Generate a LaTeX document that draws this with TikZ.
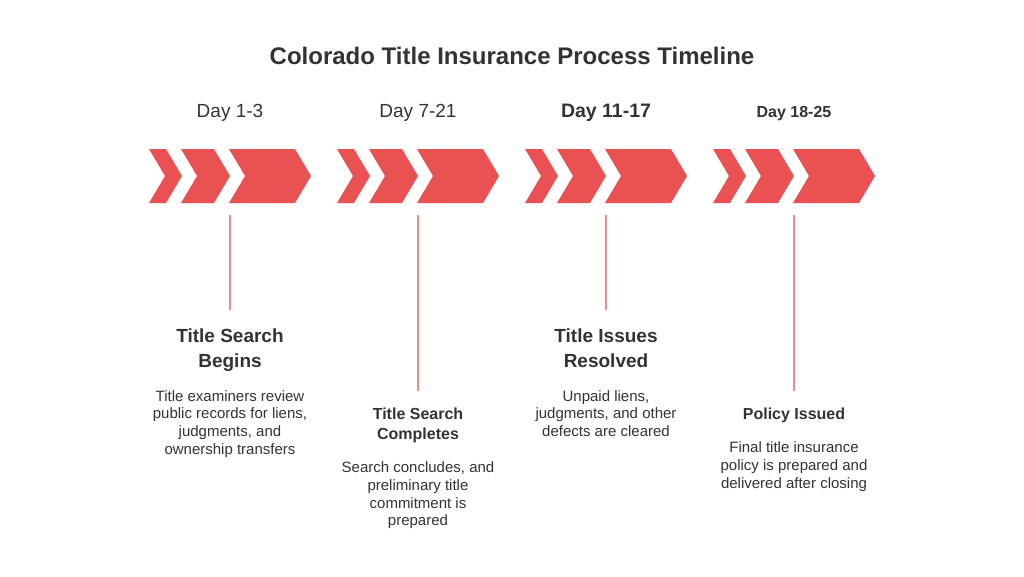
\documentclass[tikz,border=0pt]{standalone}
\usepackage{fontspec}
\setmainfont{Liberation Sans}
\definecolor{chev}{RGB}{233,81,83}
\definecolor{stem}{RGB}{236,140,142}
\definecolor{ink}{RGB}{51,51,51}
\begin{document}
\begin{tikzpicture}[x=1pt,y=-1pt,
  chevfill/.style={fill=chev,draw=none},
  stemline/.style={draw=stem,line width=1.2pt},
  titletext/.style={font=\bfseries\fontsize{24}{28}\selectfont,text=ink,inner sep=0,anchor=base},
  daytext/.style={font=\fontsize{19}{22}\selectfont,text=ink,inner sep=0,anchor=base},
  headbig/.style={font=\bfseries\fontsize{19}{24.5}\selectfont,text=ink,inner sep=0,anchor=north,align=center},
  headsmall/.style={font=\bfseries\fontsize{16}{20}\selectfont,text=ink,inner sep=0,anchor=north,align=center},
  desc/.style={font=\fontsize{15}{17.8}\selectfont,text=ink,inner sep=0,anchor=north,align=center},
]
\useasboundingbox[fill=white] (0,0) rectangle (1024,576);

\node[titletext] (title) at (512,64) {Colorado Title Insurance Process Timeline};

% chevron groups
\foreach \g/\name in {0/a,1/b,2/c,3/d}{
  \begin{scope}[xshift=\g*188]
    \fill[chevfill] (149,149) -- (166,149) -- (182,176) -- (166,203) -- (149,203) -- (165,176) -- cycle;
    \fill[chevfill] (181,149) -- (214,149) -- (230,176) -- (214,203) -- (181,203) -- (197,176) -- cycle;
    \fill[chevfill] (229,149) -- (295,149) -- (311,176) -- (295,203) -- (229,203) -- (245,176) -- cycle;
    \coordinate (top\name) at (230,215);
  \end{scope}
}

% day labels
\node[daytext] (d1) at (230,117) {Day 1-3};
\node[daytext] (d2) at (418,117) {Day 7-21};
\node[daytext,font=\bfseries\fontsize{19.5}{22}\selectfont] (d3) at (606,117) {Day 11-17};
\node[daytext,font=\bfseries\fontsize{16}{20}\selectfont] (d4) at (794,117) {Day 18-25};

% stems
\coordinate (bota) at (230,310);
\coordinate (botb) at (418,391);
\coordinate (botc) at (606,310);
\coordinate (botd) at (794,391);
\draw[stemline] (topa) -- (bota);
\draw[stemline] (topb) -- (botb);
\draw[stemline] (topc) -- (botc);
\draw[stemline] (topd) -- (botd);

% texts
\node[headbig] (h1) at (230,329) {Title Search\\Begins};
\node[desc] (t1) at (230,390) {Title examiners review\\public records for liens,\\judgments, and\\ownership transfers};

\node[headsmall] (h2) at (418,408) {Title Search\\Completes};
\node[desc] (t2) at (418,461.5) {Search concludes, and\\preliminary title\\commitment is\\prepared};

\node[headbig] (h3) at (606,329) {Title Issues\\Resolved};
\node[desc] (t3) at (606,390) {Unpaid liens,\\judgments, and other\\defects are cleared};

\node[headsmall] (h4) at (794,408) {Policy Issued};
\node[desc] (t4) at (794,441.5) {Final title insurance\\policy is prepared and\\delivered after closing};
\end{tikzpicture}
\end{document}
